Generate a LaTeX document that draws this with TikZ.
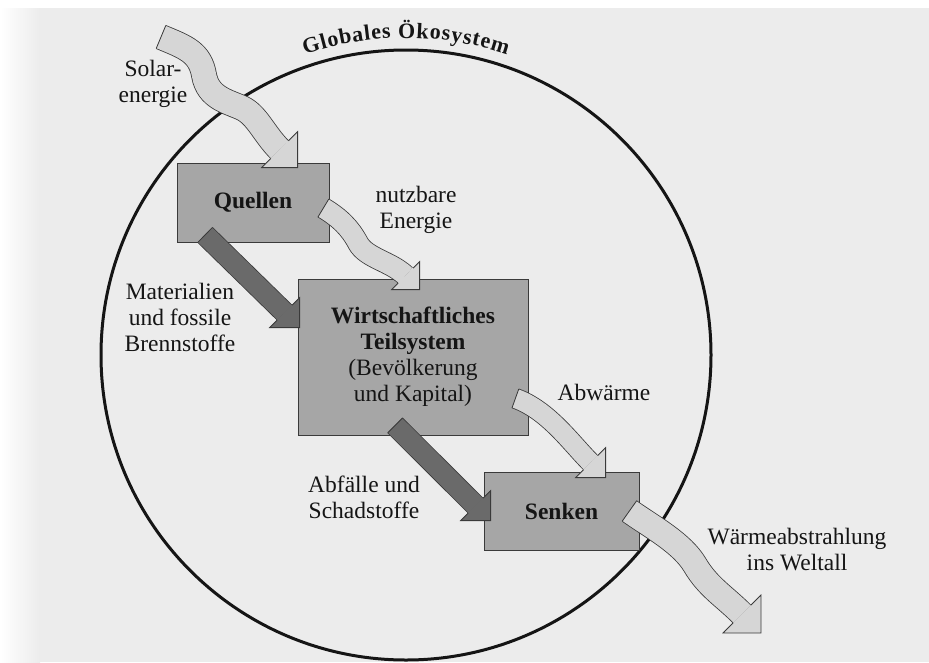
\documentclass[tikz,border=0pt]{standalone}
\usepackage{fontspec}
\setmainfont{Liberation Serif}
\usetikzlibrary{calc,decorations.text}

\definecolor{paper}{HTML}{ECECEC}
\definecolor{ink}{HTML}{151515}
\definecolor{boxgray}{HTML}{A6A6A6}
\definecolor{flowlight}{HTML}{D6D6D6}
\definecolor{flowdark}{HTML}{6A6A6A}
\definecolor{edge}{HTML}{3A3A3A}

\newcommand{\lblfont}{\fontsize{23.5}{26}\selectfont}
\newcommand{\ecofont}{\bfseries\fontsize{22}{24}\selectfont}

% right-angled block arrow head pointing down-right:
% #1 tip, #2 leg length, #3 half width of the shaft, #4 fill colour
\newcommand{\flowhead}[4]{%
  \path[fill=#4, draw=edge, line width=0.8pt, line join=miter]
    ($(#1)+(-#2/2,-#2/2)+(-0.7071*#3,0.7071*#3)$) -- ($(#1)+(-#2,0)$) -- (#1)
    -- ($(#1)+(0,-#2)$) -- ($(#1)+(-#2/2,-#2/2)+(0.7071*#3,-0.7071*#3)$);}

\begin{document}
\begin{tikzpicture}[x=1pt, y=-1pt,
  sysbox/.style={draw=edge, line width=0.8pt, fill=boxgray, inner sep=0pt,
    font=\lblfont, text=ink, align=center},
  lbl/.style={font=\lblfont, text=ink, align=center, inner sep=0pt},
  lightshaft/.style={draw=edge, line width=0.8pt, double=flowlight, double distance=#1},
  darkshaft/.style={draw=edge, line width=0.8pt, double=flowdark, double distance=#1},
  rim/.style={draw=edge, line width=0.8pt}]

\useasboundingbox (0,0) rectangle (929,662);
\fill[white] (0,0) rectangle (929,8);
\fill[paper] (0,8) rectangle (929,662);
\shade[left color=white, right color=paper] (0,8) rectangle (40,662);

% the global ecosystem
\node[circle, draw=ink, line width=3pt, minimum size=610pt, inner sep=0pt] (eco) at (406,355) {};
\path[decorate, decoration={text along path, text align=fit to path,
    text={|\ecofont\color{ink}|Globales Ökosystem}}]
  (eco.center) ++(-108.6:317) arc[start angle=-108.6, end angle=-71.4, radius=317];

% stocks
\node[sysbox, minimum width=152pt, minimum height=79pt] (q) at (253,202.5) {\bfseries Quellen};
\node[sysbox, minimum width=230pt, minimum height=156pt] (w) at (413,357)
  {{\bfseries Wirtschaftliches}\\{\bfseries Teilsystem}\\(Bevölkerung\\und Kapital)};
\node[sysbox, minimum width=155pt, minimum height=78pt] (s) at (561.5,511) {\bfseries Senken};

% solar energy into the sources
\coordinate (solS) at (161,37);
\coordinate (solT) at ($(q.north west)+(121,5)$);
\draw[lightshaft=24.2pt] (solS) .. controls (185,47) and (200,52) .. (204,75)
  .. controls (208,98) and (228,101.5) .. (242,108)
  .. controls (257,115) and (264,134) .. ($(solT)+(-18,-18)$);
\draw[rim] ($(solS)!12.5pt!90:(185,47)$) -- ($(solS)!12.5pt!-90:(185,47)$);
\flowhead{solT}{36}{12.5}{flowlight}

% materials and fossil fuels
\coordinate (m1S) at ($(q.south west)+(28.5,-7.5)$);
\coordinate (m1T) at ($(w.north west)+(2,49)$);
\draw[darkshaft=20.2pt] (m1S) -- ($(m1T)+(-15,-15)$);
\draw[rim] ($(m1S)!10.5pt!90:(m1T)$) -- ($(m1S)!10.5pt!-90:(m1T)$);
\flowhead{m1T}{30}{10.5}{flowdark}

% usable energy
\coordinate (nuS) at ($(q.east)+(-6,5.5)$);
\coordinate (nuT) at ($(w.north west)+(122,11)$);
\draw[lightshaft=20.2pt] (nuS) .. controls (340,218) and (350,228) .. (358,243)
  .. controls (366,258) and (390,261) .. ($(nuT)+(-14,-14)$);
\draw[rim] ($(nuS)!10.5pt!90:(340,218)$) -- ($(nuS)!10.5pt!-90:(340,218)$);
\flowhead{nuT}{28}{10.5}{flowlight}

% waste and pollutants
\coordinate (m2S) at ($(w.south west)+(97.5,-10)$);
\coordinate (m2T) at ($(s.north west)+(7,49)$);
\draw[darkshaft=20.2pt] (m2S) -- ($(m2T)+(-15,-15)$);
\draw[rim] ($(m2S)!10.5pt!90:(m2T)$) -- ($(m2S)!10.5pt!-90:(m2T)$);
\flowhead{m2T}{30}{10.5}{flowdark}

% waste heat
\coordinate (abS) at ($(w.south east)+(-13,-37)$);
\coordinate (abT) at ($(s.north west)+(122,6)$);
\draw[lightshaft=19.2pt] (abS) .. controls (548,410) and (571,443) .. ($(abT)+(-15,-15)$);
\draw[rim] ($(abS)!10pt!90:(548,410)$) -- ($(abS)!10pt!-90:(548,410)$);
\flowhead{abT}{30}{10}{flowlight}

% radiation into space
\coordinate (raS) at ($(s.east)+(-10,0)$);
\coordinate (raT) at (761,633);
\draw[lightshaft=24.2pt] (raS) .. controls (652,527) and (682,543) .. (695,565)
  .. controls (708,587) and (724,596) .. ($(raT)+(-19,-19)$);
\draw[rim] ($(raS)!12.5pt!90:(652,527)$) -- ($(raS)!12.5pt!-90:(652,527)$);
\flowhead{raT}{38}{12.5}{flowlight}

% flow labels
\node[lbl] (solar) at (153,84) {Solar-\\energie};
\node[lbl] (nutz) at (416,210) {nutzbare\\Energie};
\node[lbl] (mat) at (180,317) {Materialien\\und fossile\\Brennstoffe};
\node[lbl] (abw) at (604,392) {Abwärme};
\node[lbl] (abf) at (364,497) {Abfälle und\\Schadstoffe};
\node[lbl] (rad) at (797,550) {Wärmeabstrahlung\\ins Weltall};
\end{tikzpicture}
\end{document}
